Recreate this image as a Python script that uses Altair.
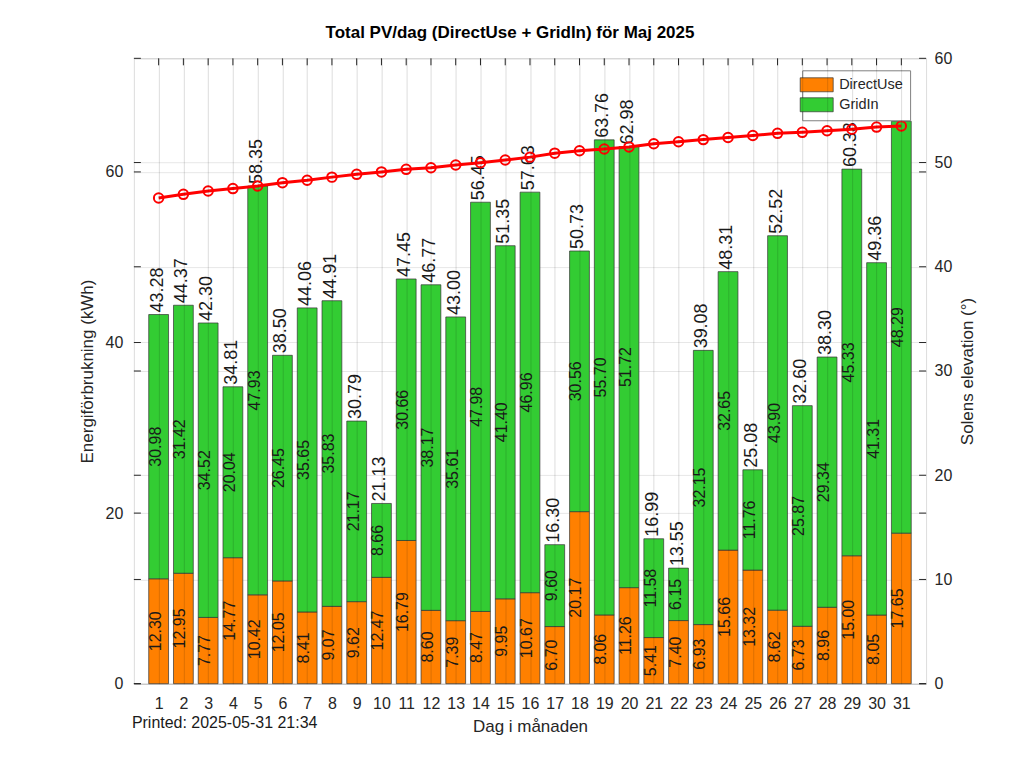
import altair as alt
import pandas as pd

# ---------------- data ----------------
days = list(range(1, 32))
direct_use = [12.30, 12.95, 7.77, 14.77, 10.42, 12.05, 8.41, 9.07, 9.62, 12.47,
              16.79, 8.60, 7.39, 8.47, 9.95, 10.67, 6.70, 20.17, 8.06, 11.26,
              5.41, 7.40, 6.93, 15.66, 13.32, 8.62, 6.73, 8.96, 15.00, 8.05, 17.65]
grid_in = [30.98, 31.42, 34.52, 20.04, 47.93, 26.45, 35.65, 35.83, 21.17, 8.66,
           30.66, 38.17, 35.61, 47.98, 41.40, 46.96, 9.60, 30.56, 55.70, 51.72,
           11.58, 6.15, 32.15, 32.65, 11.76, 43.90, 25.87, 29.34, 45.33, 41.31, 48.29]
totals = [43.28, 44.37, 42.30, 34.81, 58.35, 38.50, 44.06, 44.91, 30.79, 21.13,
          47.45, 46.77, 43.00, 56.45, 51.35, 57.63, 16.30, 50.73, 63.76, 62.98,
          16.99, 13.55, 39.08, 48.31, 25.08, 52.52, 32.60, 38.30, 60.33, 49.36, 65.94]
elevation = [46.60, 46.95, 47.27, 47.50, 47.75, 48.07, 48.30, 48.60, 48.87, 49.10,
             49.35, 49.50, 49.76, 49.98, 50.24, 50.52, 50.90, 51.13, 51.30, 51.50,
             51.80, 52.00, 52.20, 52.40, 52.60, 52.80, 52.90, 53.05, 53.20, 53.40, 53.50]
series_names = ["DirectUse", "GridIn"]
left_ticks = [0, 20, 40, 60]
right_ticks = [0, 10, 20, 30, 40, 50, 60]
title_text = ["Total PV/dag (DirectUse + GridIn) för Maj 2025"]
printed_text = ["Printed: 2025-05-31 21:34"]

# ---------------- tables ----------------
seg = pd.DataFrame({
    "day": days * 2,
    "series": [series_names[0]] * 31 + [series_names[1]] * 31,
    "lo": [0.0] * 31 + direct_use,
    "hi": direct_use + [d + g for d, g in zip(direct_use, grid_in)],
    "label": [f"{v:.2f}" for v in direct_use + grid_in],
})
tot = pd.DataFrame({"day": days, "total": totals, "label": [f"{t:.2f}" for t in totals]})
elev = pd.DataFrame({"day": days, "elev": elevation})
lt = pd.DataFrame({"v": left_ticks})
rt = pd.DataFrame({"v": right_ticks})
dt = pd.DataFrame({"day": days})
pr = pd.DataFrame({"t": printed_text})
tt = pd.DataFrame({"t": title_text})

# ---------------- style ----------------
PW, PH = 793, 626
FONT = "Liberation Sans"
TXT = "#262626"
ORANGE = "#FF8000"
GREEN = "#33CC33"
RED = "#FF0000"

xscale = alt.Scale(domain=[0, 32], nice=False, zero=False)
yl = alt.Scale(domain=[0, 73.32], nice=False, zero=True)
yr = alt.Scale(domain=[0, 60], nice=False, zero=True)

X_AXIS = alt.Axis(
    values=days, title="Dag i månaden", grid=True, gridColor="#000000",
    gridOpacity=0.14, zindex=1, ticks=False, domain=False,
    labelFontSize=16, labelPadding=12, titleFontSize=17, titlePadding=7,
    labelColor=TXT, titleColor=TXT, labelFont=FONT, titleFont=FONT,
    titleFontWeight="normal", labelFlush=False)


def X(field):
    return alt.X(field, scale=xscale, axis=X_AXIS)


bars = alt.Chart(seg).transform_calculate(
    x0="datum.day - 0.4", x1="datum.day + 0.4"
).mark_bar(stroke="#333333", strokeWidth=0.7).encode(
    x=X("x0:Q"),
    x2="x1:Q",
    y=alt.Y("lo:Q", scale=yl, axis=alt.Axis(
        values=left_ticks, title="Energiförbrukning (kWh)", grid=True,
        gridColor="#000000", gridOpacity=0.1, ticks=False, domain=False,
        labelFontSize=16, labelPadding=11, titleFontSize=17, titlePadding=9,
        labelColor=TXT, titleColor=TXT, labelFont=FONT, titleFont=FONT,
        titleFontWeight="normal")),
    y2="hi:Q",
    color=alt.Color("series:N", scale=alt.Scale(domain=series_names, range=[ORANGE, GREEN]),
                    legend=alt.Legend(
                        title=None, orient="none", legendX=669, legendY=12,
                        fillColor="#ffffff", strokeColor="#7f7f7f", padding=7,
                        symbolType="M-2.36,-1H2.36V1H-2.36Z", symbolSize=196,
                        symbolStrokeColor="#333333", symbolStrokeWidth=0.7,
                        symbolOpacity=1, labelFontSize=14.5, labelFont=FONT,
                        labelColor=TXT, labelOffset=15, rowPadding=3)),
)

seg_labels = alt.Chart(seg).transform_calculate(
    mid="(datum.lo + datum.hi) / 2"
).mark_text(angle=270, fontSize=16, font=FONT, color="#1a1a1a",
            align="center", baseline="alphabetic", dy=2).encode(
    x=X("day:Q"),
    y=alt.Y("mid:Q", scale=yl),
    text="label:N",
)

tot_labels = alt.Chart(tot).mark_text(
    angle=270, fontSize=18, font=FONT, color="#1a1a1a",
    align="left", baseline="alphabetic", dx=2, dy=4).encode(
    x=X("day:Q"),
    y=alt.Y("total:Q", scale=yl),
    text="label:N",
)

lt_left = alt.Chart(lt).mark_rule(color=TXT, strokeWidth=1).encode(
    y=alt.Y("v:Q", scale=yl), x=alt.value(0), x2=alt.value(7))
lt_right = alt.Chart(lt).mark_rule(color=TXT, strokeWidth=1).encode(
    y=alt.Y("v:Q", scale=yl), x=alt.value(PW - 7), x2=alt.value(PW))
top_ticks = alt.Chart(dt).mark_rule(color=TXT, strokeWidth=1).encode(
    x=X("day:Q"), y=alt.value(0), y2=alt.value(7))

printed = alt.Chart(pr).mark_text(
    align="left", baseline="alphabetic", fontSize=16, font=FONT, color="#1a1a1a").encode(
    x=alt.value(-2), y=alt.value(PH + 44), text="t:N")

title = alt.Chart(tt).mark_text(
    align="center", baseline="alphabetic", fontSize=17, font=FONT,
    fontWeight="bold", color="#000000").encode(
    x=alt.value(PW / 2 - 20), y=alt.value(-20), text="t:N")

left = alt.layer(bars, seg_labels, tot_labels, lt_left, lt_right, top_ticks, printed, title)

line = alt.Chart(elev).mark_line(color=RED, strokeWidth=3).encode(
    x=X("day:Q"),
    y=alt.Y("elev:Q", scale=yr, axis=alt.Axis(
        values=right_ticks, orient="right", title="Solens elevation (°)",
        grid=True, gridColor="#000000", gridOpacity=0.1, ticks=False,
        domain=False, labelFontSize=16, labelPadding=8, titleFontSize=17,
        titlePadding=8, titleAngle=270, titleBaseline="top",
        labelColor=TXT, titleColor=TXT,
        labelFont=FONT, titleFont=FONT, titleFontWeight="normal")),
)
pts = alt.Chart(elev).mark_point(shape="circle", size=90, filled=False,
                                 color=RED, strokeWidth=2, opacity=1).encode(
    x=X("day:Q"),
    y=alt.Y("elev:Q", scale=yr),
)
rt_left = alt.Chart(rt).mark_rule(color=TXT, strokeWidth=1).encode(
    y=alt.Y("v:Q", scale=yr), x=alt.value(0), x2=alt.value(7))
rt_right = alt.Chart(rt).mark_rule(color=TXT, strokeWidth=1).encode(
    y=alt.Y("v:Q", scale=yr), x=alt.value(PW - 7), x2=alt.value(PW))

right = alt.layer(line, pts, rt_left, rt_right)

chart = alt.layer(left, right).resolve_scale(y="independent").properties(
    width=PW, height=PH,
    autosize=alt.AutoSizeParams(type="none"),
    padding={"left": 126, "top": 50, "right": 90, "bottom": 60},
).configure_view(stroke=TXT, strokeWidth=1).configure(background="#ffffff")

chart.save("out.html", embed_options={"renderer": "svg", "actions": False})
